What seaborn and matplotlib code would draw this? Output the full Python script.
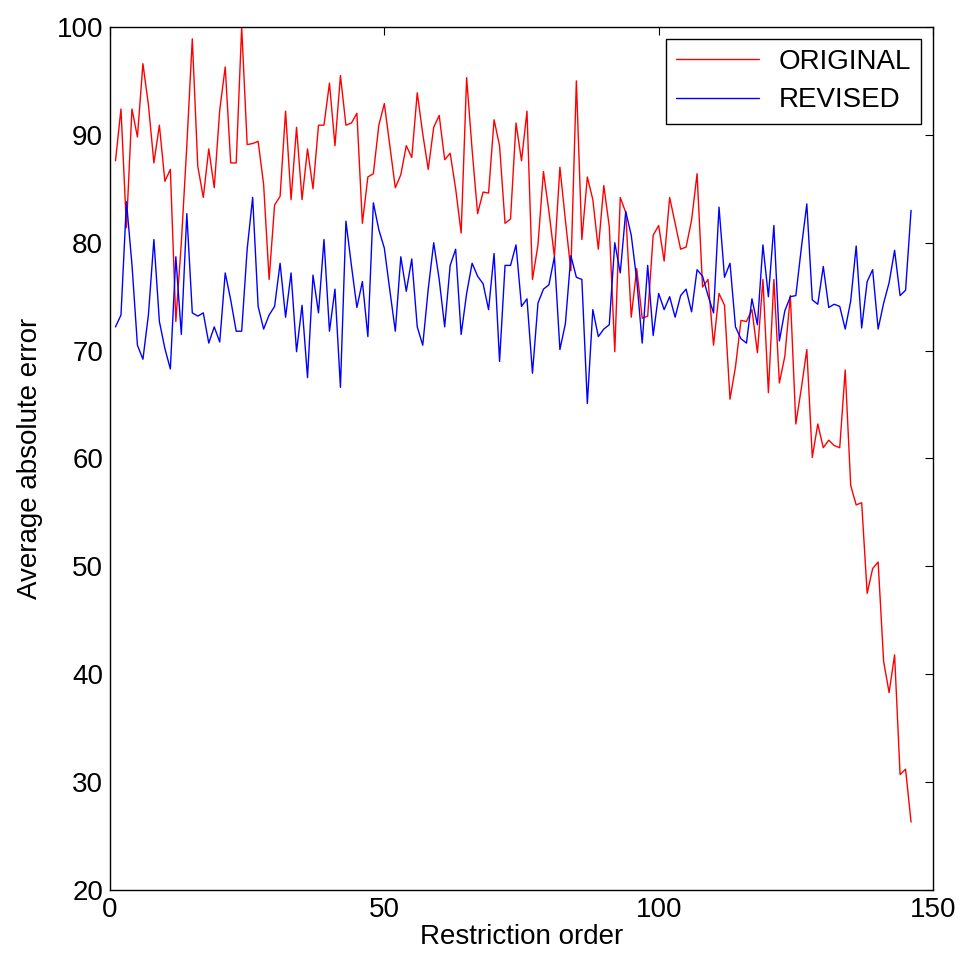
import numpy as np
import pandas as pd
import matplotlib
matplotlib.use("Agg")
import matplotlib.pyplot as plt
import seaborn as sns

order = list(range(1, 147))

original = [
    87.6, 92.4, 81.4, 92.4, 89.8, 96.6, 92.8, 87.4, 90.9, 85.7,
    86.8, 72.7, 80.0, 89.0, 98.9, 87.1, 84.2, 88.7, 85.1, 92.3,
    96.3, 87.4, 87.4, 100.0, 89.1, 89.2, 89.4, 85.4, 76.6, 83.5,
    84.3, 92.2, 84.0, 90.7, 84.0, 88.7, 85.0, 90.9, 90.9, 94.8,
    89.0, 95.5, 90.9, 91.1, 92.0, 81.8, 86.1, 86.4, 90.9, 92.9,
    89.0, 85.1, 86.3, 89.0, 87.9, 93.9, 90.1, 86.8, 90.7, 91.8,
    87.7, 88.3, 85.0, 80.9, 95.3, 88.6, 82.7, 84.7, 84.6, 91.4,
    89.0, 81.8, 82.2, 91.1, 87.6, 92.2, 76.6, 79.8, 86.6, 82.9,
    78.7, 87.0, 82.1, 77.4, 95.0, 80.3, 86.1, 84.0, 79.4, 85.3,
    81.5, 69.9, 84.2, 82.8, 73.1, 77.6, 73.0, 73.2, 80.7, 81.6,
    78.3, 84.2, 81.8, 79.4, 79.6, 82.1, 86.4, 75.9, 76.6, 70.5,
    75.3, 74.2, 65.5, 68.5, 72.8, 72.7, 73.8, 69.8, 76.6, 66.1,
    76.6, 67.0, 69.5, 75.1, 63.2, 66.5, 70.1, 60.1, 63.2, 61.0,
    61.7, 61.2, 61.0, 68.2, 57.5, 55.7, 55.9, 47.5, 49.8, 50.4,
    41.2, 38.3, 41.8, 30.7, 31.2, 26.3,
]

revised = [
    72.2, 73.3, 83.8, 78.0, 70.5, 69.2, 73.3, 80.3, 72.7, 70.2,
    68.3, 78.7, 71.5, 82.7, 73.5, 73.2, 73.5, 70.7, 72.2, 70.8,
    77.2, 74.7, 71.8, 71.8, 79.4, 84.2, 74.1, 72.0, 73.3, 74.1,
    78.1, 73.1, 77.2, 69.9, 74.2, 67.5, 77.0, 73.5, 80.3, 71.8,
    75.7, 66.6, 82.0, 77.9, 74.0, 76.4, 71.3, 83.7, 81.2, 79.5,
    75.6, 71.8, 78.7, 75.5, 78.5, 72.2, 70.5, 75.7, 80.0, 76.6,
    72.2, 77.9, 79.4, 71.5, 75.3, 78.1, 76.9, 76.2, 73.8, 79.0,
    69.0, 77.9, 77.9, 79.8, 74.1, 74.8, 67.9, 74.4, 75.7, 76.1,
    78.7, 70.1, 72.5, 78.8, 76.8, 76.6, 65.1, 73.8, 71.3, 72.0,
    72.4, 80.0, 77.2, 82.9, 80.7, 76.6, 70.7, 77.9, 71.4, 75.3,
    73.8, 75.0, 73.1, 75.1, 75.7, 73.6, 77.5, 76.9, 75.1, 73.5,
    83.3, 76.8, 78.1, 72.2, 71.1, 70.7, 74.8, 72.4, 79.8, 75.0,
    81.6, 70.9, 73.7, 75.0, 75.1, 79.5, 83.6, 74.7, 74.3, 77.8,
    74.0, 74.3, 74.1, 72.0, 74.6, 79.7, 72.1, 76.4, 77.5, 72.0,
    74.4, 76.3, 79.3, 75.1, 75.6, 83.0,
]

series_names = ["ORIGINAL", "REVISED"]
xticks = [0, 50, 100, 150]
yticks = [20, 30, 40, 50, 60, 70, 80, 90, 100]

df = pd.DataFrame({
    "order": order * 2,
    "error": original + revised,
    "series": [series_names[0]] * len(order) + [series_names[1]] * len(order),
})

sns.set_style("white")
plt.rcParams["font.family"] = ["Liberation Sans", "DejaVu Sans"]
plt.rcParams["text.color"] = "black"
plt.rcParams["axes.labelcolor"] = "black"

FS = 20

fig = plt.figure(figsize=(9.65, 9.67), dpi=100)
ax = fig.add_axes([110 / 965, 77 / 967, 823 / 965, 863 / 967])

sns.lineplot(data=df, x="order", y="error", hue="series",
             palette={"ORIGINAL": "#ff0000", "REVISED": "#0000ff"},
             linewidth=1.0, ax=ax)

ax.set_xlim(0, 150)
ax.set_ylim(20, 100)
ax.set_xticks(xticks)
ax.set_yticks(yticks)
ax.tick_params(direction="in", length=6, width=0.8, top=True, right=True,
               labelsize=FS, colors="black", pad=5)
for s in ax.spines.values():
    s.set_visible(True)
    s.set_color("black")
    s.set_linewidth(1.0)

ax.set_xlabel("Restriction order", fontsize=FS, labelpad=1, color="black")
ax.set_ylabel("Average absolute error", fontsize=FS, labelpad=10, color="black")

handles, labels = ax.get_legend_handles_labels()
leg = ax.legend(handles, labels, loc="upper right", fontsize=FS,
                frameon=True, fancybox=False, edgecolor="black",
                borderaxespad=0.42, handlelength=3.0, handletextpad=0.7,
                borderpad=0.37, labelspacing=0.45)
leg.get_frame().set_linewidth(1.0)
leg.get_frame().set_alpha(1)
for t in leg.get_texts():
    t.set_color("black")

fig.savefig("out.png", dpi=100)
